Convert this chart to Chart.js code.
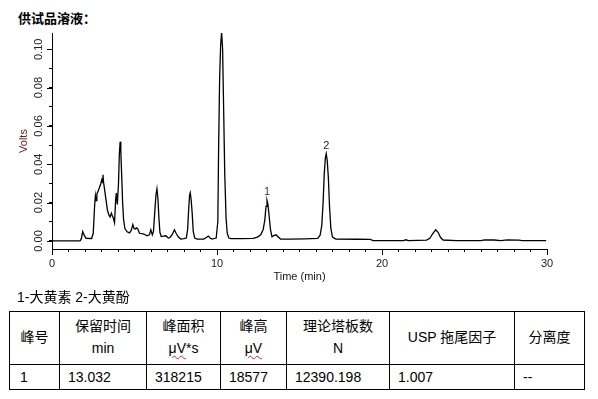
<!DOCTYPE html>
<html>
<head>
<meta charset="utf-8">
<script src="https://cdn.jsdelivr.net/npm/chart.js@4.4.1/dist/chart.umd.min.js"></script>
<style>
  html, body { margin: 0; padding: 0; background: #fff; }
  body { width: 598px; height: 399px; position: relative; overflow: hidden;
         font-family: "Liberation Sans", Arial, "Noto Sans CJK SC", sans-serif; color: #000; }
  #title { position: absolute; left: 18px; top: 9px; font: bold 13px/18px "Noto Sans CJK SC", sans-serif; }
  #wrap { position: absolute; left: 0; top: 0; width: 598px; height: 290px; }
  #peakNote { position: absolute; left: 17px; top: 287px; font-size: 14px; line-height: 20px; }
  table { position: absolute; left: 9px; top: 311px; border-collapse: collapse; table-layout: fixed;
          width: 575px; font-size: 14px; }
  td { border: 1px solid #000; padding: 0; vertical-align: middle; white-space: nowrap; }
  tr.head td { height: 52px; text-align: center; line-height: 21.6px; }
  tr.row td { height: 24px; padding-left: 8px; text-align: left; }
  tr.row td:first-child { padding-left: 10px; }
  .sp { text-decoration: underline wavy #e02020; text-decoration-thickness: 1px; text-underline-offset: 2px; }
</style>
</head>
<body>
<div id="title">供试品溶液：</div>
<div id="wrap"><canvas id="chrom" width="598" height="290"></canvas></div>
<div id="peakNote">1-大黄素 2-大黄酚</div>
<table>
  <colgroup>
    <col style="width:50px"><col style="width:87px"><col style="width:74px"><col style="width:66px">
    <col style="width:103px"><col style="width:125px"><col style="width:70px">
  </colgroup>
  <tr class="head">
    <td>峰号</td>
    <td>保留时间<br>min</td>
    <td>峰面积<br><span class="sp">μV</span>*s</td>
    <td>峰高<br><span class="sp">μV</span></td>
    <td>理论塔板数<br>N</td>
    <td>USP 拖尾因子</td>
    <td>分离度</td>
  </tr>
  <tr class="row">
    <td>1</td><td>13.032</td><td>318215</td><td>18577</td><td>12390.198</td><td>1.007</td><td>--</td>
  </tr>
</table>
<script>
  // chromatogram trace (time in min, signal in volts)
  const times = [
    0, 1.7, 1.78, 1.86, 1.95, 2.06, 2.4, 2.5, 2.58, 2.63, 2.67, 2.72, 2.8, 2.88, 2.96, 3.02, 3.06, 3.09, 3.12,
    3.2, 3.28, 3.36, 3.45, 3.52, 3.6, 3.66, 3.72, 3.79, 3.86, 3.9, 3.96, 4.03, 4.08, 4.13, 4.17, 4.22, 4.28,
    4.34, 4.42, 4.55, 4.7, 4.8, 4.9, 4.97, 5.05, 5.12, 5.2, 5.3, 5.45, 5.6, 5.75, 5.9, 5.99, 6.08, 6.15, 6.22,
    6.3, 6.36, 6.42, 6.48, 6.54, 6.62, 6.75, 6.9, 7.05, 7.15, 7.3, 7.42, 7.52, 7.65, 7.8, 8.0, 8.14, 8.22,
    8.28, 8.34, 8.38, 8.44, 8.5, 8.56, 8.65, 8.8, 9.2, 9.35, 9.48, 9.58, 9.7, 9.95, 10.05, 10.1, 10.16, 10.22,
    10.28, 10.34, 10.4, 10.47, 10.55, 10.62, 10.72, 10.85, 11.5, 12.2, 12.45, 12.65, 12.8, 12.9, 12.97, 13.03,
    13.09, 13.16, 13.24, 13.33, 13.45, 13.58, 13.7, 13.85, 14.5, 15.3, 16.1, 16.25, 16.35, 16.43, 16.5, 16.57,
    16.62, 16.68, 16.75, 16.82, 16.9, 17.0, 17.2, 18.5, 19.3, 19.45, 21.3, 21.45, 21.6, 22.7, 22.9, 23.05,
    23.25, 23.4, 23.55, 23.7, 24.5, 26.0, 26.2, 26.8, 27.2, 27.6, 28.3, 28.5, 29.95
  ];
  const volts = [
    0, 0, 0.0012, 0.0049, 0.003, 0.0014, 0.0013, 0.004, 0.018, 0.0235, 0.021, 0.0245, 0.026, 0.028, 0.03, 0.032, 0.0305, 0.0345, 0.031,
    0.026, 0.021, 0.016, 0.0135, 0.0125, 0.0145, 0.013, 0.0118, 0.0095, 0.022, 0.025, 0.019, 0.03, 0.045, 0.0518, 0.047, 0.035, 0.02,
    0.011, 0.0065, 0.0048, 0.0042, 0.0055, 0.0085, 0.0065, 0.0062, 0.0068, 0.0063, 0.004, 0.0038, 0.0035, 0.0027, 0.0032, 0.0058, 0.0032, 0.005, 0.014,
    0.024, 0.0272, 0.022, 0.012, 0.0045, 0.0023, 0.0025, 0.0027, 0.0015, 0.0018, 0.0035, 0.0058, 0.004, 0.0022, 0.001, 0.0012, 0.0015, 0.006,
    0.016, 0.024, 0.0252, 0.021, 0.014, 0.005, 0.0015, 0.001, 0.001, 0.0018, 0.0025, 0.0015, 0.001, 0.0015, 0.01, 0.05, 0.085, 0.102,
    0.109, 0.1, 0.07, 0.035, 0.012, 0.004, 0.0015, 0.0012, 0.0012, 0.0013, 0.002, 0.0032, 0.006, 0.011, 0.018, 0.0212,
    0.019, 0.013, 0.006, 0.0022, 0.0028, 0.0032, 0.0022, 0.001, 0.001, 0.0011, 0.0013, 0.003, 0.008, 0.02, 0.035, 0.0435,
    0.0455, 0.042, 0.033, 0.018, 0.0065, 0.002, 0.001, 0.0009, 0.0008, 0.0002, 0.0002, 0.0006, 0.0002, 0.0004, 0.0014, 0.0035,
    0.0058, 0.0045, 0.0018, 0.0005, 0.0002, 0.0002, 0.0006, 0.0005, 0.0002, 0.0006, 0.0004, 0.0002, 0.0002
  ];

  // numbered peaks
  const peakNames = ['1', '2'];
  const peakTimes = [13.03, 16.62];
  const peakVolts = [0.0212, 0.0455];
  const peakColors = ['#5c1d5c', '#222'];

  // axis ticks
  const xLabelTicks = [0, 10, 20, 30];
  const yLabelTicks = [0, 0.02, 0.04, 0.06, 0.08, 0.10];

  Chart.defaults.font.family = '"Liberation Sans", Arial, sans-serif';
  Chart.defaults.font.size = 11;
  Chart.defaults.color = '#222';

  const points = times.map((t, i) => ({ x: t, y: volts[i] }));

  // y labels are turned on their side, and labelled ticks are longer
  const axisExtras = {
    id: 'axisExtras',
    afterDraw(chart) {
      const { ctx, scales: { x, y } } = chart;
      ctx.save();
      ctx.strokeStyle = '#000';
      ctx.lineWidth = 1;
      xLabelTicks.forEach(v => {
        const px = Math.round(x.getPixelForValue(v)) + 0.5;
        ctx.beginPath();
        ctx.moveTo(px, x.top);
        ctx.lineTo(px, x.top + 6);
        ctx.stroke();
      });
      yLabelTicks.forEach(v => {
        const py = Math.round(y.getPixelForValue(v)) + 0.5;
        ctx.beginPath();
        ctx.moveTo(y.right, py);
        ctx.lineTo(y.right - 5, py);
        ctx.stroke();
      });

      ctx.fillStyle = '#222';
      ctx.font = '11px "Liberation Sans", Arial, sans-serif';
      ctx.textAlign = 'center';
      ctx.textBaseline = 'middle';
      yLabelTicks.forEach(v => {
        ctx.save();
        ctx.translate(y.right - 13, y.getPixelForValue(v));
        ctx.rotate(-Math.PI / 2);
        ctx.fillText(v.toFixed(2), 0, 0);
        ctx.restore();
      });

      peakNames.forEach((name, i) => {
        ctx.fillStyle = peakColors[i];
        ctx.fillText(name, x.getPixelForValue(peakTimes[i]), y.getPixelForValue(peakVolts[i]) - 8);
      });
      ctx.restore();
    }
  };

  new Chart(document.getElementById('chrom').getContext('2d'), {
    type: 'line',
    data: {
      datasets: [{
        data: points,
        borderColor: '#000',
        borderWidth: 1.3,
        pointRadius: 0,
        tension: 0,
        fill: false
      }]
    },
    options: {
      responsive: false,
      animation: false,
      devicePixelRatio: 1,
      layout: { padding: { left: 0, right: 51, top: 33, bottom: 0 } },
      plugins: { legend: { display: false }, tooltip: { enabled: false } },
      scales: {
        x: {
          type: 'linear',
          min: 0,
          max: 30,
          afterFit: s => { s.height = 41; },
          grid: { drawOnChartArea: false, drawTicks: true, tickLength: 3, color: '#000' },
          border: { color: '#000', width: 1 },
          ticks: {
            stepSize: 1,
            autoSkip: false,
            maxRotation: 0,
            padding: 5,
            color: '#222',
            callback: v => (v % 10 === 0 ? String(v) : '')
          },
          title: { display: true, text: 'Time (min)', color: '#151515', font: { size: 11 }, padding: { top: 0, bottom: 6 } }
        },
        y: {
          type: 'linear',
          min: -0.0042,
          max: 0.1085,
          afterFit: s => { s.width = 52; },
          grid: { drawOnChartArea: false, drawTicks: true, tickLength: 3, color: '#000' },
          border: { color: '#000', width: 1 },
          ticks: { display: false, stepSize: 0.01, includeBounds: false },
          title: { display: true, text: 'Volts', color: '#701818', font: { size: 11 }, padding: { top: 17, bottom: 0 } }
        }
      }
    },
    plugins: [axisExtras]
  });
</script>
</body>
</html>
